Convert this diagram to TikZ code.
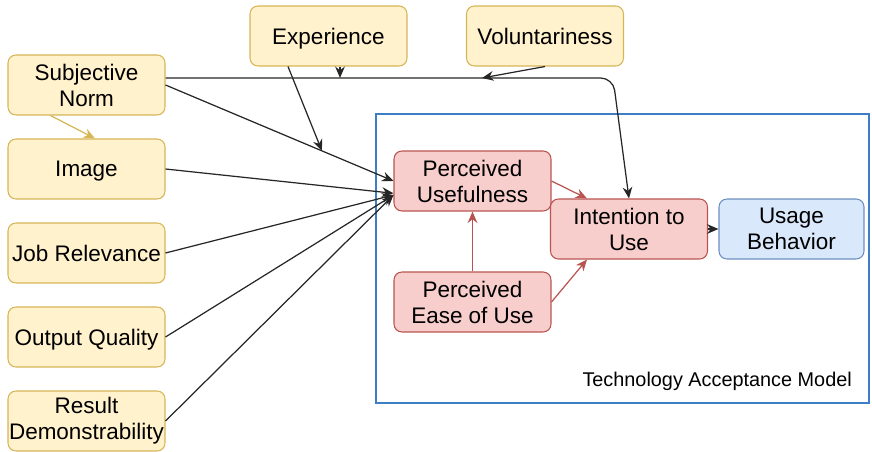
\documentclass[tikz,border=0pt]{standalone}
\usepackage{fontspec}
\setmainfont{Liberation Sans}
\usepackage{xcolor}
\definecolor{Amarillo}{HTML}{FFF2CC}
\definecolor{AmarilloBorde}{HTML}{D6B656}
\definecolor{Rojo}{HTML}{F8CECC}
\definecolor{RojoBorde}{HTML}{B85450}
\definecolor{Azul}{HTML}{DAE8FC}
\definecolor{AzulBorde}{HTML}{6C8EBF}
\definecolor{AzulTAM}{HTML}{3D7EC4}
\usepackage{tikz}
\usetikzlibrary{calc, arrows.meta}

\begin{document}
\begin{tikzpicture}[
  x=0.02cm, y=-0.02cm,
  caja/.style={
    rectangle, rounded corners=4.5pt,
    minimum width=3.14cm, minimum height=1.2cm,
    inner xsep=0pt, align=center,
    font=\fontsize{12.8}{14.8}\selectfont
  },
  una/.style={text depth=0pt},
  factor/.style={caja, draw=AmarilloBorde, line width=0.6pt, fill=Amarillo},
  nucleo/.style={caja, draw=RojoBorde, line width=0.6pt, fill=Rojo},
  uso/.style={caja, draw=AzulBorde, line width=0.6pt, fill=Azul,
    minimum width=2.9cm},
  marco/.style={rectangle, draw=AzulTAM, line width=0.7pt, inner sep=0pt,
    minimum width=9.86cm, minimum height=5.78cm},
  flecha/.style={-{Stealth[length=6.5pt, width=5.5pt]}, line width=0.7pt},
  fnegra/.style={flecha, color=black!85},
  froja/.style={flecha, color=RojoBorde},
  fdorada/.style={flecha, color=AmarilloBorde},
  lbl/.style={font=\fontsize{11.3}{13}\selectfont, anchor=east}
]
\useasboundingbox (0,0) rectangle (872,452);

%% ─────────────────────────────────────────────
%% Marco del modelo TAM
%% ─────────────────────────────────────────────
\node[marco] (TAM) at (622.5, 258.5) {};
\node[lbl] (TAMlbl) at (858, 381) {Technology Acceptance Model};

%% Factores externos (columna izquierda y fila superior)
\node[factor]      (SN)  at (86.5,  85) {Subjective\\Norm};
\node[factor, una] (IMG) at (86.5, 169) {Image};
\node[factor, una] (JR)  at (86.5, 253) {Job Relevance};
\node[factor, una] (OQ)  at (86.5, 337) {Output Quality};
\node[factor]      (RD)  at (86.5, 421) {Result\\Demonstrability};
\node[factor, una] (EXP) at (328.5, 36) {Experience};
\node[factor, una] (VOL) at (545,   36) {Voluntariness};

%% Nucleo TAM
\node[nucleo] (PU)  at (472.5, 181) {Perceived\\Usefulness};
\node[nucleo] (PEU) at (472.5, 302) {Perceived\\Ease of Use};
\node[nucleo] (ITU) at (629,   229) {Intention to\\Use};
\node[uso]    (UB)  at (791.5, 229) {Usage\\Behavior};

%% puntos sobre las lineas (moderadores)
\coordinate (H)  at (613, 78);
\coordinate (E1) at (340, 78);
\coordinate (V1) at (482, 78);
\coordinate (E2) at ($(SN.east)!0.686!(PU.west)$);

% norma subjetiva -> intencion (linea superior)
\draw[fnegra, rounded corners=7pt]
  (SN.east |- H) -- (H) -- (ITU.north);

% moderadores
\draw[fnegra] (E1 |- EXP.south) -- (E1);
\draw[fnegra] ([xshift=-0.81cm]EXP.south) -- (E2);
\draw[fnegra] (VOL.south) -- (V1);

% factores -> utilidad percibida
\draw[fnegra] (SN.east)  -- (PU.west);
\draw[fnegra] (IMG.east) -- ([yshift=-7pt]PU.west);
\draw[fnegra] (JR.east)  -- ([yshift=-8pt]PU.west);
\draw[fnegra] (OQ.east)  -- ([yshift=-8pt]PU.west);
\draw[fnegra] (RD.east)  -- ([yshift=-8pt]PU.west);

\draw[fdorada] ([xshift=-0.72cm]SN.south) -- ([xshift=0.17cm]IMG.north);

% relaciones internas del modelo
\draw[froja] (PU.east)   -- ([xshift=0.74cm]ITU.north west);
\draw[froja] (PEU.north) -- (PU.south);
\draw[froja] (PEU.east)  -- ([xshift=0.74cm]ITU.south west);
\draw[fnegra] (ITU.east) -- (UB.west);

\end{tikzpicture}
\end{document}
